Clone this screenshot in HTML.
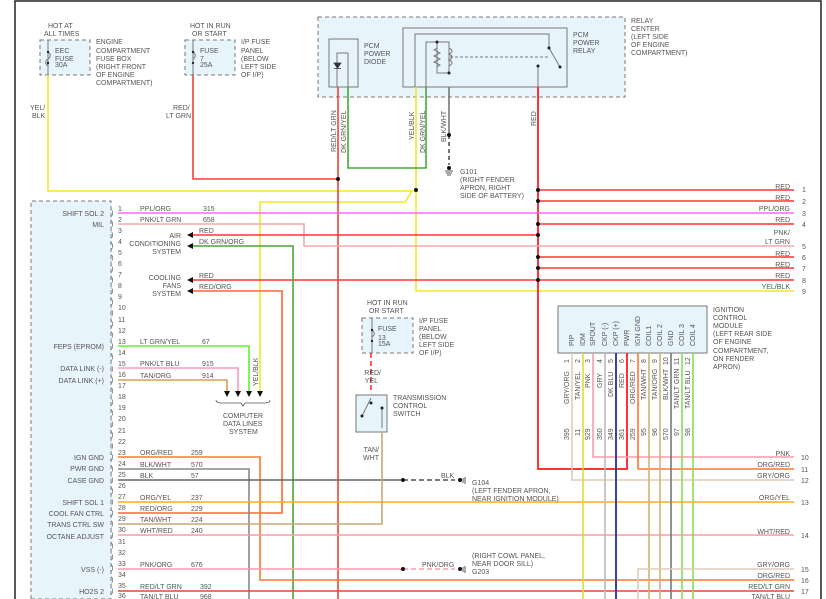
<!DOCTYPE html>
<html><head><meta charset="utf-8"><style>
html,body{margin:0;padding:0;background:#fff;width:826px;height:599px;overflow:hidden}
svg{display:block}
svg text{font-family:"Liberation Sans",sans-serif;font-size:7px;fill:#555}
</style></head><body>
<svg width="826" height="599" viewBox="0 0 826 599" xmlns="http://www.w3.org/2000/svg">
<path d="M15 599V1H821V599" fill="none" stroke="#222" stroke-width="1.5"/>
<!-- boxes -->
<g fill="#e8f4fc" stroke="#777" stroke-dasharray="4,3">
<rect x="40" y="40" width="50" height="35"/>
<rect x="185" y="40" width="50" height="35"/>
<rect x="318" y="17" width="307" height="80"/>
<path d="M31 599V201H111V599Z"/>
<rect x="362" y="318" width="51" height="35"/>
</g>
<g fill="#e8f4fc" stroke="#777">
<rect x="329" y="39" width="29" height="48"/>
<rect x="403" y="28" width="164" height="59"/>
<rect x="356" y="395" width="31" height="37"/>
<rect x="558" y="306" width="149" height="47"/>
</g>
<!-- relay internals -->
<g fill="none" stroke="#777" stroke-width="1">
<path d="M337 87V53H348V87"/>
<path d="M415 87V34H549V48L560 67"/>
<path d="M426 87V42H449V73H437V42"/>
<path d="M437 48l-3 2 6 3-6 3 6 3-6 3 6 3-3 2"/>
<path d="M449 48c4 2 4 4 0 6c4 2 4 4 0 6c4 2 4 4 0 6" />
<path d="M450 57H549" stroke-dasharray="3,2"/>
<path d="M538 66V87"/>
<path d="M48 40V75M193 40V75M372 318V353"/>
<path d="M48 52c3 2 3 5 0 7c-3 2-3 5 0 7"/>
<path d="M193 52c3 2 3 5 0 7"/>
<path d="M372 330c3 2 3 5 0 7"/>
<path d="M371 398L362 416M382 408V428"/>
</g>
<path d="M334 63h7l-3.5 5z M334 68.5h7" fill="#333" stroke="#333" stroke-width="0.8"/>
<g fill="#222"><circle cx="437" cy="42" r="1.5"/><circle cx="449" cy="73" r="1.5"/><circle cx="549" cy="48" r="1.5"/><circle cx="560" cy="67" r="1.5"/><circle cx="538" cy="66" r="1.5"/><circle cx="371" cy="403" r="1.5"/><circle cx="362" cy="416" r="1.5"/><circle cx="382" cy="408" r="1.5"/><circle cx="48" cy="52" r="1.2"/><circle cx="48" cy="63" r="1.2"/><circle cx="193" cy="52" r="1.2"/><circle cx="193" cy="63" r="1.2"/><circle cx="372" cy="330" r="1.2"/><circle cx="372" cy="341" r="1.2"/></g>
<!-- wires -->
<g fill="none" stroke-width="1.6">
<path d="M48 75V191H412L405 202H260V392" stroke="#f5e62a"/>
<path d="M416 87V291H794" stroke="#f5e62a"/>
<path d="M193 75V179H338" stroke="#e43" />
<path d="M338 87V599" stroke="#e43"/>
<path d="M348 87V168H426V87" stroke="#4a3"/>
<path d="M449 87V135" stroke="#777"/>
<path d="M449 135V165" stroke="#555" stroke-dasharray="4,3"/>
<path d="M538 87V469H627V353" stroke="#f33" stroke-width="2"/>
<path d="M538 190H794M538 201H794M538 224H794M538 257H794M538 268H794M538 280H794" stroke="#f33"/>
<path d="M118 213H794" stroke="#f6f"/>
<path d="M118 224H304V246H794" stroke="#f4a8a8"/>
<path d="M190 235H538M190 280H538" stroke="#f33"/>
<path d="M190 246H293V599" stroke="#4a3"/>
<path d="M190 291H282V513H118" stroke="#f63"/>
<path d="M118 346H249V392" stroke="#6e3"/>
<path d="M118 368H238V392" stroke="#f9b"/>
<path d="M118 380H227V392" stroke="#d9a050"/>
<path d="M118 457H260V580H794" stroke="#f73"/>
<path d="M118 469H249V599" stroke="#888"/>
<path d="M118 480H403" stroke="#666"/>
<path d="M403 480H455" stroke="#555" stroke-dasharray="5,3"/>
<path d="M118 502H794" stroke="#fa2"/>
<path d="M118 524H382V432" stroke="#c4a878"/>
<path d="M118 535H794" stroke="#f9a"/>
<path d="M118 569H403" stroke="#f9a"/>
<path d="M403 569H455" stroke="#f9a" stroke-dasharray="5,3"/>
<path d="M118 591H794" stroke="#e43"/>
<path d="M371 353V392" stroke="#f33" stroke-dasharray="5,3"/>
<path d="M572 353V480H794" stroke="#dcb" />
<path d="M583 353V599" stroke="#dd3"/>
<path d="M593 353V457H794" stroke="#f9a"/>
<path d="M605 353V599" stroke="#bbb"/>
<path d="M616 353V599" stroke="#34a" stroke-width="2"/>
<path d="M638 353V469H794" stroke="#f73"/>
<path d="M649 353V599M660 353V599" stroke="#d9b070"/>
<path d="M671 353V599" stroke="#777"/>
<path d="M682 353V599M693 353V599" stroke="#8d5"/>
<path d="M638 599V569H794" stroke="#dcb"/>
</g>
<!-- dots -->
<g fill="#111"><circle cx="338" cy="179" r="2"/><circle cx="416" cy="190" r="2"/><circle cx="449" cy="135" r="2"/><circle cx="449" cy="168" r="2"/>
<circle cx="538" cy="190" r="2"/><circle cx="538" cy="201" r="2"/><circle cx="538" cy="224" r="2"/><circle cx="538" cy="235" r="2"/><circle cx="538" cy="257" r="2"/><circle cx="538" cy="268" r="2"/><circle cx="538" cy="280" r="2"/>
<circle cx="403" cy="480" r="2"/><circle cx="403" cy="569" r="2"/><circle cx="460" cy="480" r="2"/><circle cx="460" cy="569" r="2"/></g>
<!-- arrows -->
<g fill="#111"><path d="M187 235l6-3v6zM187 246l6-3v6zM187 280l6-3v6zM187 291l6-3v6z"/>
<path d="M224 391h6l-3 6zM235 391h6l-3 6zM246 391h6l-3 6zM257 391h6l-3 6z"/></g>
<path d="M216 400q0 3 5 3h20l2 3 2-3h20q5 0 5-3" fill="none" stroke="#555" stroke-width="0.8"/>
<g stroke="#555" stroke-width="1"><path d="M445 171h8M446 173h6M447 175h4M463 478v5M465 477v7M463 567v5M465 566v7"/></g>
<!-- texts -->
<text x="48" y="28">HOT AT</text><text x="44" y="36">ALL TIMES</text>
<text x="55" y="53">EEC</text><text x="55" y="61">FUSE</text><text x="55" y="67">30A</text>
<text x="96" y="44">ENGINE</text><text x="96" y="53">COMPARTMENT</text><text x="96" y="61">FUSE BOX</text><text x="96" y="69">(RIGHT FRONT</text><text x="96" y="77">OF ENGINE</text><text x="96" y="85">COMPARTMENT)</text>
<text x="190" y="28">HOT IN RUN</text><text x="192" y="36">OR START</text>
<text x="200" y="53">FUSE</text><text x="200" y="61">7</text><text x="200" y="67">25A</text>
<text x="241" y="44">I/P FUSE</text><text x="241" y="53">PANEL</text><text x="241" y="61">(BELOW</text><text x="241" y="69">LEFT SIDE</text><text x="241" y="77">OF I/P)</text>
<text x="30" y="110">YEL/</text><text x="32" y="118">BLK</text>
<text x="173" y="110">RED/</text><text x="166" y="118">LT GRN</text>
<text x="364" y="48">PCM</text><text x="364" y="56">POWER</text><text x="364" y="64">DIODE</text>
<text x="573" y="37">PCM</text><text x="573" y="45">POWER</text><text x="573" y="53">RELAY</text>
<text x="631" y="23">RELAY</text><text x="631" y="31">CENTER</text><text x="631" y="39">(LEFT SIDE</text><text x="631" y="47">OF ENGINE</text><text x="631" y="55">COMPARTMENT)</text>
<text transform="translate(336,152) rotate(-90)">RED/LT GRN</text>
<text transform="translate(346,153) rotate(-90)">DK GRN/YEL</text>
<text transform="translate(414,140) rotate(-90)">YEL/BLK</text>
<text transform="translate(425,153) rotate(-90)">DK GRN/YEL</text>
<text transform="translate(446,142) rotate(-90)">BLK/WHT</text>
<text transform="translate(536,126) rotate(-90)">RED</text>
<text transform="translate(258,386) rotate(-90)">YEL/BLK</text>
<text x="460" y="174">G101</text><text x="460" y="182">(RIGHT FENDER</text><text x="460" y="190">APRON, RIGHT</text><text x="460" y="198">SIDE OF BATTERY)</text>
<g text-anchor="end">
<text x="790" y="189">RED</text><text x="790" y="200">RED</text><text x="790" y="211">PPL/ORG</text><text x="790" y="222">RED</text><text x="790" y="235">PNK/</text><text x="790" y="244">LT GRN</text><text x="790" y="256">RED</text><text x="790" y="267">RED</text><text x="790" y="278">RED</text><text x="790" y="289">YEL/BLK</text>
<text x="790" y="456">PNK</text><text x="790" y="467">ORG/RED</text><text x="790" y="478">GRY/ORG</text><text x="790" y="500">ORG/YEL</text><text x="790" y="534">WHT/RED</text><text x="790" y="567">GRY/ORG</text><text x="790" y="578">ORG/RED</text><text x="790" y="589">RED/LT GRN</text><text x="790" y="599">TAN/LT BLU</text>
<text x="104" y="216">SHIFT SOL 2</text><text x="104" y="227">MIL</text><text x="104" y="349">FEPS (EPROM)</text><text x="104" y="371">DATA LINK (-)</text><text x="104" y="383">DATA LINK (+)</text><text x="104" y="460">IGN GND</text><text x="104" y="471">PWR GND</text><text x="104" y="483">CASE GND</text><text x="104" y="505">SHIFT SOL 1</text><text x="104" y="516">COOL FAN CTRL</text><text x="104" y="527">TRANS CTRL SW</text><text x="104" y="539">OCTANE ADJUST</text><text x="104" y="572">VSS (-)</text><text x="104" y="594">HO2S 2</text>
<text x="181" y="238">AIR</text><text x="181" y="246">CONDITIONING</text><text x="181" y="254">SYSTEM</text>
<text x="181" y="280">COOLING</text><text x="181" y="288">FANS</text><text x="181" y="296">SYSTEM</text>
<text x="381" y="375">RED/</text><text x="378" y="383">YEL</text>
<text x="379" y="452">TAN/</text><text x="379" y="460">WHT</text>
</g>
<g>
<text x="802" y="192">1</text><text x="802" y="204">2</text><text x="802" y="216">3</text><text x="802" y="227">4</text><text x="802" y="249">5</text><text x="802" y="260">6</text><text x="802" y="271">7</text><text x="802" y="283">8</text><text x="802" y="294">9</text>
<text x="801" y="460">10</text><text x="801" y="472">11</text><text x="801" y="483">12</text><text x="801" y="505">13</text><text x="801" y="538">14</text><text x="801" y="572">15</text><text x="801" y="583">16</text><text x="801" y="594">17</text>
</g>
<text x="199" y="233">RED</text><text x="199" y="244">DK GRN/ORG</text><text x="199" y="278">RED</text><text x="199" y="289">RED/ORG</text>
<g>
<text x="140" y="211">PPL/ORG</text><text x="203" y="211">315</text>
<text x="140" y="222">PNK/LT GRN</text><text x="203" y="222">658</text>
<text x="140" y="344">LT GRN/YEL</text><text x="202" y="344">67</text>
<text x="140" y="366">PNK/LT BLU</text><text x="202" y="366">915</text>
<text x="140" y="378">TAN/ORG</text><text x="202" y="378">914</text>
<text x="140" y="455">ORG/RED</text><text x="191" y="455">259</text>
<text x="140" y="467">BLK/WHT</text><text x="191" y="467">570</text>
<text x="140" y="478">BLK</text><text x="191" y="478">57</text>
<text x="140" y="500">ORG/YEL</text><text x="191" y="500">237</text>
<text x="140" y="511">RED/ORG</text><text x="191" y="511">229</text>
<text x="140" y="522">TAN/WHT</text><text x="191" y="522">224</text>
<text x="140" y="533">WHT/RED</text><text x="191" y="533">240</text>
<text x="140" y="567">PNK/ORG</text><text x="191" y="567">676</text>
<text x="140" y="589">RED/LT GRN</text><text x="200" y="589">392</text>
<text x="140" y="599">TAN/LT BLU</text><text x="200" y="599">968</text>
</g>
<g font-size="6.5">
<text x="118" y="211">1</text><text x="118" y="222">2</text><text x="118" y="233">3</text><text x="118" y="244">4</text><text x="118" y="255">5</text><text x="118" y="266">6</text><text x="118" y="277">7</text><text x="118" y="288">8</text><text x="118" y="299">9</text><text x="118" y="310">10</text><text x="118" y="322">11</text><text x="118" y="333">12</text><text x="118" y="344">13</text><text x="118" y="355">14</text><text x="118" y="366">15</text><text x="118" y="377">16</text><text x="118" y="388">17</text><text x="118" y="399">18</text><text x="118" y="410">19</text><text x="118" y="421">20</text><text x="118" y="433">21</text><text x="118" y="444">22</text><text x="118" y="455">23</text><text x="118" y="466">24</text><text x="118" y="477">25</text><text x="118" y="488">26</text><text x="118" y="499">27</text><text x="118" y="510">28</text><text x="118" y="521">29</text><text x="118" y="532">30</text><text x="118" y="544">31</text><text x="118" y="555">32</text><text x="118" y="566">33</text><text x="118" y="577">34</text><text x="118" y="588">35</text><text x="118" y="598">36</text>
</g>
<g>
<text x="111" y="215">)</text><text x="111" y="226">)</text><text x="111" y="237">)</text><text x="111" y="248">)</text><text x="111" y="260">)</text><text x="111" y="271">)</text><text x="111" y="282">)</text><text x="111" y="293">)</text><text x="111" y="304">)</text><text x="111" y="315">)</text><text x="111" y="326">)</text><text x="111" y="337">)</text><text x="111" y="348">)</text><text x="111" y="359">)</text><text x="111" y="371">)</text><text x="111" y="382">)</text><text x="111" y="393">)</text><text x="111" y="404">)</text><text x="111" y="415">)</text><text x="111" y="426">)</text><text x="111" y="437">)</text><text x="111" y="448">)</text><text x="111" y="459">)</text><text x="111" y="471">)</text><text x="111" y="482">)</text><text x="111" y="493">)</text><text x="111" y="504">)</text><text x="111" y="515">)</text><text x="111" y="526">)</text><text x="111" y="537">)</text><text x="111" y="548">)</text><text x="111" y="559">)</text><text x="111" y="570">)</text><text x="111" y="582">)</text><text x="111" y="593">)</text>
</g>
<text x="223" y="418">COMPUTER</text><text x="223" y="426">DATA LINES</text><text x="229" y="434">SYSTEM</text>
<text x="367" y="305">HOT IN RUN</text><text x="369" y="313">OR START</text>
<text x="378" y="331">FUSE</text><text x="378" y="340">13</text><text x="378" y="346">15A</text>
<text x="419" y="323">I/P FUSE</text><text x="419" y="331">PANEL</text><text x="419" y="339">(BELOW</text><text x="419" y="347">LEFT SIDE</text><text x="419" y="355">OF I/P)</text>
<text x="393" y="400">TRANSMISSION</text><text x="393" y="408">CONTROL</text><text x="393" y="416">SWITCH</text>
<text x="441" y="478">BLK</text>
<text x="472" y="485">G104</text><text x="472" y="493">(LEFT FENDER APRON,</text><text x="472" y="501">NEAR IGNITION MODULE)</text>
<text x="422" y="567">PNK/ORG</text>
<text x="472" y="558">(RIGHT COWL PANEL,</text><text x="472" y="566">NEAR DOOR SILL)</text><text x="472" y="574">G203</text>
<text x="713" y="312">IGNITION</text><text x="713" y="320">CONTROL</text><text x="713" y="328">MODULE</text><text x="713" y="336">(LEFT REAR SIDE</text><text x="713" y="344">OF ENGINE</text><text x="713" y="353">COMPARTMENT,</text><text x="713" y="361">ON FENDER</text><text x="713" y="369">APRON)</text>
<g>
<text transform="translate(574,346) rotate(-90)">PIP</text>
<text transform="translate(585,346) rotate(-90)">IDM</text>
<text transform="translate(595,346) rotate(-90)">SPOUT</text>
<text transform="translate(607,346) rotate(-90)">CKP (-)</text>
<text transform="translate(618,346) rotate(-90)">CKP (+)</text>
<text transform="translate(629,346) rotate(-90)">PWR</text>
<text transform="translate(640,346) rotate(-90)">IGN GND</text>
<text transform="translate(651,346) rotate(-90)">COIL1</text>
<text transform="translate(662,346) rotate(-90)">COIL 2</text>
<text transform="translate(673,346) rotate(-90)">GND</text>
<text transform="translate(684,346) rotate(-90)">COIL 3</text>
<text transform="translate(695,346) rotate(-90)">COIL 4</text>
<text transform="translate(569,404) rotate(-90)">GRY/ORG</text>
<text transform="translate(580,400) rotate(-90)">TAN/YEL</text>
<text transform="translate(590,388) rotate(-90)">PNK</text>
<text transform="translate(602,388) rotate(-90)">GRY</text>
<text transform="translate(613,397) rotate(-90)">DK BLU</text>
<text transform="translate(624,388) rotate(-90)">RED</text>
<text transform="translate(635,404) rotate(-90)">ORG/RED</text>
<text transform="translate(646,400) rotate(-90)">TAN/WHT</text>
<text transform="translate(657,400) rotate(-90)">TAN/ORG</text>
<text transform="translate(668,400) rotate(-90)">BLK/WHT</text>
<text transform="translate(679,409) rotate(-90)">TAN/LT GRN</text>
<text transform="translate(690,409) rotate(-90)">TAN/LT BLU</text>
<text transform="translate(569,440) rotate(-90)">395</text>
<text transform="translate(580,436) rotate(-90)">11</text>
<text transform="translate(590,440) rotate(-90)">929</text>
<text transform="translate(602,440) rotate(-90)">350</text>
<text transform="translate(613,440) rotate(-90)">349</text>
<text transform="translate(624,440) rotate(-90)">361</text>
<text transform="translate(635,440) rotate(-90)">259</text>
<text transform="translate(646,436) rotate(-90)">95</text>
<text transform="translate(657,436) rotate(-90)">96</text>
<text transform="translate(668,440) rotate(-90)">570</text>
<text transform="translate(679,436) rotate(-90)">97</text>
<text transform="translate(690,436) rotate(-90)">98</text>
<text transform="translate(569,363) rotate(-90)">1</text><text transform="translate(580,363) rotate(-90)">2</text><text transform="translate(590,363) rotate(-90)">3</text><text transform="translate(602,363) rotate(-90)">4</text><text transform="translate(613,363) rotate(-90)">5</text><text transform="translate(624,363) rotate(-90)">6</text><text transform="translate(635,363) rotate(-90)">7</text><text transform="translate(646,363) rotate(-90)">8</text><text transform="translate(657,363) rotate(-90)">9</text><text transform="translate(668,365) rotate(-90)">10</text><text transform="translate(679,365) rotate(-90)">11</text><text transform="translate(690,365) rotate(-90)">12</text>
</g>
</svg>
</body></html>
